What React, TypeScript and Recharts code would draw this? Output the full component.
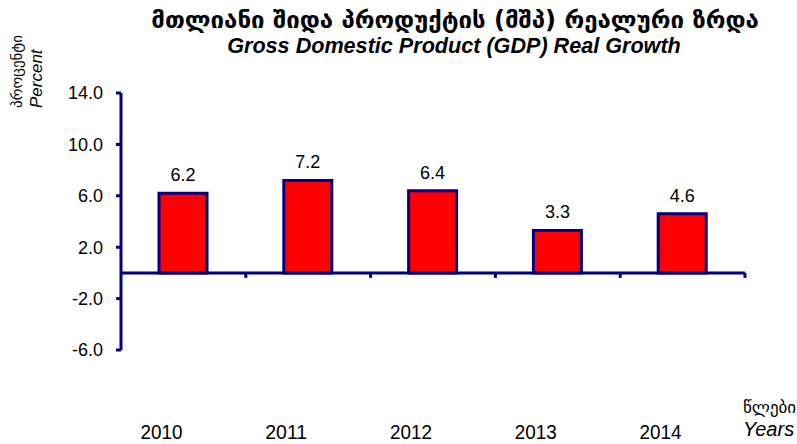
import React from "react";
import { BarChart, Bar, XAxis, YAxis, ReferenceLine, LabelList } from "recharts";

const years = ["2010", "2011", "2012", "2013", "2014"];
const growth = [6.2, 7.2, 6.4, 3.3, 4.6];
const yTicks = [-6, -2, 2, 6, 10, 14];

const data = years.map((year, i) => ({ year, growth: growth[i] }));

const NAVY = "#000080";
const W = 797;
const H = 444;
const M = { top: 93, right: 52, bottom: 64, left: 0 };
const Y_MIN = -6;
const Y_MAX = 14;
const X_AXIS_H = 30;
const plotH = H - M.top - M.bottom - X_AXIS_H;
const zeroY = M.top + (Y_MAX / (Y_MAX - Y_MIN)) * plotH;
const band = (W - M.right - 121) / years.length;

// year label sits low and a bit left of the bar; boundary tick is drawn on the zero line
function YearTick(props: any) {
  const { x, y, payload } = props;
  return (
    <g>
      <line
        x1={x + band / 2}
        x2={x + band / 2}
        y1={zeroY}
        y2={zeroY + 5}
        stroke={NAVY}
        strokeWidth={3}
      />
      <text
        x={x - 22}
        y={y + 81}
        textAnchor="middle"
        fontFamily="'Liberation Sans', Arial"
        fontSize={20}
        textLength={42}
        lengthAdjust="spacingAndGlyphs"
        fill="#000"
      >
        {payload.value}
      </text>
    </g>
  );
}

export default function App() {
  return (
    <div
      style={{
        position: "absolute",
        left: 0,
        top: 0,
        width: W,
        height: H,
        background: "#fff",
        fontFamily: "'Liberation Sans', Arial, sans-serif",
      }}
    >
      <div
        style={{
          position: "absolute",
          left: 0,
          width: 910,
          top: 6,
          textAlign: "center",
          fontFamily: "'DejaVu Sans'",
          fontWeight: 700,
          fontSize: 24,
          whiteSpace: "nowrap",
        }}
      >
        მთლიანი შიდა პროდუქტის (მშპ) რეალური ზრდა
      </div>
      <div
        style={{
          position: "absolute",
          left: 0,
          width: 908,
          top: 33,
          textAlign: "center",
          fontWeight: 700,
          fontStyle: "italic",
          fontSize: 21.6,
          whiteSpace: "nowrap",
        }}
      >
        Gross Domestic Product (GDP) Real Growth
      </div>
      <div
        style={{
          position: "absolute",
          left: 7,
          top: 108,
          transform: "rotate(-90deg)",
          transformOrigin: "0 0",
          lineHeight: "20px",
          whiteSpace: "nowrap",
        }}
      >
        <div style={{ fontFamily: "'DejaVu Sans'", fontSize: 15 }}>პროცენტი</div>
        <div style={{ fontStyle: "italic", fontSize: 17 }}>Percent</div>
      </div>
      <div
        style={{
          position: "absolute",
          left: 743,
          top: 396,
          lineHeight: "22px",
          whiteSpace: "nowrap",
        }}
      >
        <div style={{ fontFamily: "'DejaVu Sans'", fontSize: 17 }}>წლები</div>
        <div style={{ fontStyle: "italic", fontSize: 20 }}>Years</div>
      </div>
      <BarChart
        width={W}
        height={H}
        data={data}
        margin={M}
        style={{ position: "absolute", left: 0, top: 0 }}
      >
        <XAxis
          dataKey="year"
          height={X_AXIS_H}
          axisLine={false}
          tickLine={false}
          tick={<YearTick />}
          interval={0}
        />
        <YAxis
          width={121}
          domain={[Y_MIN, Y_MAX]}
          ticks={yTicks}
          allowDataOverflow
          tickFormatter={(v: number) => v.toFixed(1)}
          axisLine={{ stroke: NAVY, strokeWidth: 3 }}
          tickLine={{ stroke: NAVY, strokeWidth: 3 }}
          tickSize={5}
          tickMargin={13}
          tick={{ fill: "#000", fontSize: 18, fontFamily: "'Liberation Sans', Arial" }}
        />
        <ReferenceLine y={0} stroke={NAVY} strokeWidth={3} />
        <Bar
          dataKey="growth"
          fill="#ff0000"
          stroke={NAVY}
          strokeWidth={3}
          barSize={48}
          isAnimationActive={false}
        >
          <LabelList
            dataKey="growth"
            position="top"
            offset={12}
            fill="#000"
            fontSize={18}
            fontFamily="'Liberation Sans', Arial"
            formatter={(v: any) => Number(v).toFixed(1)}
          />
        </Bar>
      </BarChart>
    </div>
  );
}
